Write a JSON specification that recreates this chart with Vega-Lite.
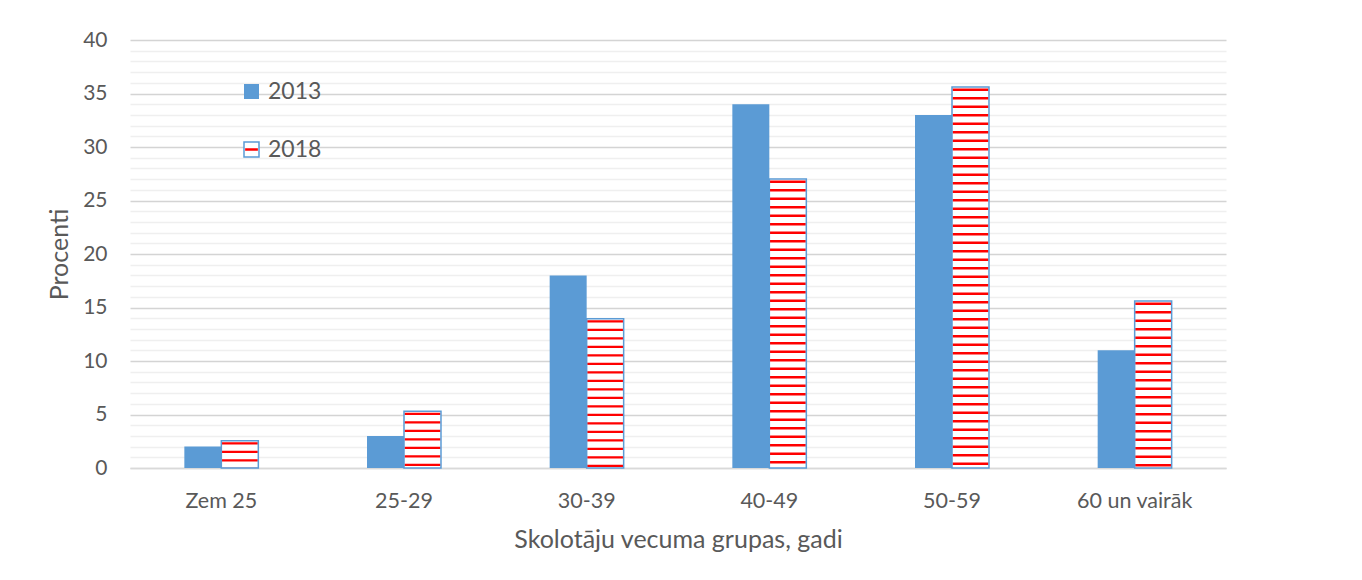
{
  "$schema": "https://vega.github.io/schema/vega-lite/v6.json",
  "width": 1096,
  "height": 428,
  "autosize": {"type": "none"},
  "padding": {"left": 130, "top": 40, "right": 136, "bottom": 112},
  "background": "#ffffff",
  "config": {
    "font": "Lato",
    "view": {"stroke": null}
  },
  "data": {
    "values": [
      {"group": "Zem 25", "year": "2013", "value": 2},
      {"group": "Zem 25", "year": "2018", "value": 2.55},
      {"group": "25-29", "year": "2013", "value": 3},
      {"group": "25-29", "year": "2018", "value": 5.3},
      {"group": "30-39", "year": "2013", "value": 18},
      {"group": "30-39", "year": "2018", "value": 13.95},
      {"group": "40-49", "year": "2013", "value": 34},
      {"group": "40-49", "year": "2018", "value": 27},
      {"group": "50-59", "year": "2013", "value": 33},
      {"group": "50-59", "year": "2018", "value": 35.6},
      {"group": "60 un vairāk", "year": "2013", "value": 11},
      {"group": "60 un vairāk", "year": "2018", "value": 15.6}
    ]
  },
  "encoding": {
    "x": {
      "field": "group",
      "type": "nominal",
      "sort": null,
      "scale": {"paddingInner": 0.595, "paddingOuter": 0.2975},
      "axis": {
        "title": "Skolotāju vecuma grupas, gadi",
        "labelAngle": 0,
        "ticks": false,
        "domain": true,
        "domainColor": "#d9d9d9",
        "domainWidth": 1.3,
        "grid": false,
        "labelFontSize": 21.5,
        "labelColor": "#595959",
        "labelPadding": 22,
        "titleFontSize": 25,
        "titleFontWeight": "normal",
        "titleColor": "#595959",
        "titlePadding": 16
      }
    },
    "xOffset": {"field": "year", "type": "nominal", "sort": ["2013", "2018"]},
    "y": {
      "field": "value",
      "type": "quantitative",
      "scale": {"domain": [0, 40], "nice": false},
      "axis": {
        "title": "Procenti",
        "values": [0,1,2,3,4,5,6,7,8,9,10,11,12,13,14,15,16,17,18,19,20,21,22,23,24,25,26,27,28,29,30,31,32,33,34,35,36,37,38,39,40],
        "labelExpr": "datum.value % 5 === 0 ? datum.label : ''",
        "labelOverlap": false,
        "grid": true,
        "gridColor": {"condition": {"test": "datum.value % 5 === 0", "value": "#d4d4d4"}, "value": "#efefef"},
        "gridWidth": 1.3,
        "ticks": false,
        "domain": false,
        "labelFontSize": 21,
        "labelColor": "#595959",
        "labelPadding": 23,
        "titleFontSize": 25,
        "titleFontWeight": "normal",
        "titleColor": "#595959",
        "titlePadding": 10
      }
    }
  },
  "layer": [
    {
      "mark": {"type": "bar"},
      "encoding": {
        "fill": {
          "field": "year",
          "type": "nominal",
          "scale": {"domain": ["2013", "2018"], "range": ["#5b9bd5", "#ffffff"]},
          "legend": {
            "orient": "none",
            "legendX": 110,
            "legendY": 40,
            "title": null,
            "padding": 0,
            "symbolType": "square",
            "symbolSize": 225,
            "symbolStrokeWidth": 1.5,
            "labelFontSize": 23,
            "labelColor": "#595959",
            "labelOffset": 5,
            "rowPadding": 34,
            "encode": {
              "symbols": {
                "update": {
                  "stroke": [
                    {"test": "datum.value == '2018'", "value": "#5b9bd5"},
                    {"value": "transparent"}
                  ]
                }
              }
            }
          }
        }
      }
    },
    {
      "transform": [{"filter": "datum.year == '2018'"}],
      "mark": {"type": "rule", "strokeWidth": 36, "strokeDash": [2.3, 6.2], "strokeDashOffset": -1.5, "strokeCap": "butt"},
      "encoding": {
        "y2": {"datum": 0},
        "stroke": {
          "field": "year",
          "type": "nominal",
          "scale": {"domain": ["2018", "2013"], "range": ["#ff0000", "transparent"]},
          "legend": {
            "orient": "none",
            "legendX": 110,
            "legendY": 40,
            "title": null,
            "padding": 0,
            "values": ["2013", "2018"],
            "symbolType": "M-0.85,0H0.85",
            "symbolSize": 225,
            "symbolStrokeWidth": 2.5,
            "symbolFillColor": "transparent",
            "labelFontSize": 23,
            "labelColor": "transparent",
            "labelOffset": 5,
            "rowPadding": 34
          }
        }
      }
    },
    {
      "transform": [{"filter": "datum.year == '2018'"}],
      "mark": {"type": "bar", "fill": null, "fillOpacity": 0, "stroke": "#5b9bd5", "strokeWidth": 1.5},
      "encoding": {}
    }
  ]
}
